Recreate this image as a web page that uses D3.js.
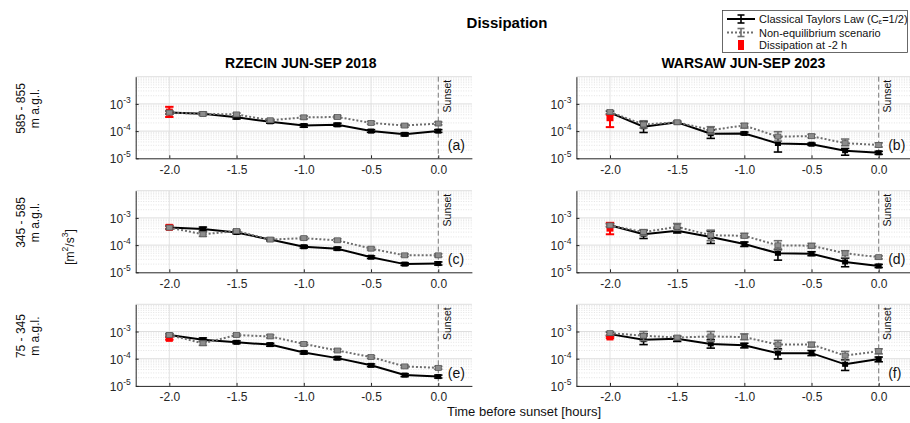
<!DOCTYPE html>
<html>
<head>
<meta charset="utf-8">
<script src="https://cdn.jsdelivr.net/npm/d3@7"></script>
<style>
  html, body { margin: 0; padding: 0; background: #fff; }
  svg { display: block; font-family: "Liberation Sans", Arial, Helvetica, sans-serif; }
</style>
</head>
<body>
<svg id="chart" width="910" height="423"></svg>
<script>
// Hours before sunset at which dissipation was evaluated
const hours = [-2.0, -1.75, -1.5, -1.25, -1.0, -0.75, -0.5, -0.25, 0.0];
const xTicks = [-2.0, -1.5, -1.0, -0.5, 0.0];
const yTicks = [1e-5, 1e-4, 1e-3];

const sites = ["RZECIN JUN-SEP 2018", "WARSAW JUN-SEP 2023"];
const layers = [["585 - 855", "m a.g.l."], ["345 - 585", "m a.g.l."], ["75 - 345", "m a.g.l."]];
const panelTags = ["(a)", "(b)", "(c)", "(d)", "(e)", "(f)"];

// (a) Rzecin 585-855 m
const aTaylor   = [4.8e-4, 4.3e-4, 3.2e-4, 2.2e-4, 1.6e-4, 1.7e-4, 1.0e-4, 7.6e-5, 1.0e-4];
const aTaylorLo = [4.2e-4, 3.8e-4, 2.8e-4, 1.95e-4, 1.4e-4, 1.5e-4, 0.9e-4, 6.7e-5, 0.9e-4];
const aTaylorHi = [5.4e-4, 4.9e-4, 3.6e-4, 2.5e-4, 1.8e-4, 1.95e-4, 1.13e-4, 8.6e-5, 1.13e-4];
const aNoneq    = [4.8e-4, 4.3e-4, 4.1e-4, 2.5e-4, 3.2e-4, 3.3e-4, 2.0e-4, 1.6e-4, 1.9e-4];
const aNoneqLo  = [4.2e-4, 3.8e-4, 3.6e-4, 2.2e-4, 2.8e-4, 2.9e-4, 1.8e-4, 1.4e-4, 1.7e-4];
const aNoneqHi  = [5.4e-4, 4.9e-4, 4.6e-4, 2.8e-4, 3.6e-4, 3.7e-4, 2.25e-4, 1.8e-4, 2.15e-4];
const aStart    = [5.0e-4, 3.3e-4, 7.8e-4]; // value, low, high at -2 h

// (b) Warsaw 585-855 m
const bTaylor   = [4.8e-4, 1.45e-4, 2.1e-4, 8.0e-5, 8.2e-5, 3.5e-5, 3.3e-5, 1.9e-5, 1.6e-5];
const bTaylorLo = [4.2e-4, 8.9e-5, 1.9e-4, 5.4e-5, 7.4e-5, 1.7e-5, 3.0e-5, 1.3e-5, 1.4e-5];
const bTaylorHi = [5.4e-4, 2.2e-4, 2.3e-4, 1.1e-4, 9.2e-5, 6.2e-5, 3.6e-5, 2.3e-5, 1.8e-5];
const bNoneq    = [5.0e-4, 1.75e-4, 2.1e-4, 1.1e-4, 1.6e-4, 6.3e-5, 6.5e-5, 3.6e-5, 3.1e-5];
const bNoneqLo  = [4.4e-4, 1.3e-4, 1.95e-4, 7.9e-5, 1.3e-4, 4.3e-5, 5.7e-5, 2.9e-5, 2.6e-5];
const bNoneqHi  = [5.6e-4, 2.4e-4, 2.3e-4, 1.45e-4, 1.9e-4, 9.5e-5, 7.6e-5, 5.1e-5, 3.7e-5];
const bStart    = [3.1e-4, 1.4e-4, 4.0e-4];

// (c) Rzecin 345-585 m
const cTaylor   = [4.4e-4, 3.9e-4, 2.9e-4, 1.6e-4, 8.7e-5, 7.4e-5, 3.6e-5, 2.0e-5, 2.1e-5];
const cTaylorLo = [3.9e-4, 3.3e-4, 2.6e-4, 1.45e-4, 7.8e-5, 6.6e-5, 3.2e-5, 1.8e-5, 1.85e-5];
const cTaylorHi = [5.0e-4, 4.6e-4, 3.25e-4, 1.8e-4, 9.7e-5, 8.3e-5, 4.0e-5, 2.25e-5, 2.4e-5];
const cNoneq    = [4.4e-4, 2.5e-4, 3.3e-4, 1.6e-4, 1.8e-4, 1.5e-4, 7.4e-5, 4.2e-5, 4.2e-5];
const cNoneqLo  = [3.9e-4, 2.1e-4, 2.95e-4, 1.4e-4, 1.6e-4, 1.35e-4, 6.6e-5, 3.8e-5, 3.7e-5];
const cNoneqHi  = [5.0e-4, 3.0e-4, 3.7e-4, 1.8e-4, 2.0e-4, 1.7e-4, 8.3e-5, 4.7e-5, 4.8e-5];
const cStart    = [4.5e-4, 3.9e-4, 5.3e-4];

// (d) Warsaw 345-585 m
const dTaylor   = [5.4e-4, 2.5e-4, 3.4e-4, 2.0e-4, 1.1e-4, 5.0e-5, 4.8e-5, 2.4e-5, 1.7e-5];
const dTaylorLo = [4.8e-4, 1.75e-4, 2.8e-4, 1.15e-4, 8.9e-5, 2.8e-5, 4.1e-5, 1.6e-5, 1.5e-5];
const dTaylorHi = [6.1e-4, 3.5e-4, 4.3e-4, 3.3e-4, 1.3e-4, 7.0e-5, 5.7e-5, 3.3e-5, 1.95e-5];
const dNoneq    = [5.3e-4, 3.0e-4, 4.7e-4, 2.3e-4, 2.2e-4, 9.8e-5, 9.5e-5, 5.0e-5, 3.6e-5];
const dNoneqLo  = [4.7e-4, 2.25e-4, 3.5e-4, 1.45e-4, 1.85e-4, 6.6e-5, 7.8e-5, 3.5e-5, 3.1e-5];
const dNoneqHi  = [6.0e-4, 3.7e-4, 6.2e-4, 3.55e-4, 2.7e-4, 1.45e-4, 1.15e-4, 6.2e-5, 4.0e-5];
const dStart    = [4.2e-4, 2.5e-4, 6.6e-4];

// (e) Rzecin 75-345 m
const eTaylor   = [7.4e-4, 5.0e-4, 4.0e-4, 3.3e-4, 1.7e-4, 1.05e-4, 5.7e-5, 2.5e-5, 2.2e-5];
const eTaylorLo = [6.6e-4, 4.3e-4, 3.6e-4, 2.9e-4, 1.5e-4, 9.3e-5, 5.1e-5, 2.2e-5, 1.95e-5];
const eTaylorHi = [8.3e-4, 5.8e-4, 4.5e-4, 3.7e-4, 1.9e-4, 1.18e-4, 6.4e-5, 2.8e-5, 2.5e-5];
const eNoneq    = [7.4e-4, 3.7e-4, 7.4e-4, 6.6e-4, 3.5e-4, 2.0e-4, 1.15e-4, 5.2e-5, 4.6e-5];
const eNoneqLo  = [6.6e-4, 3.1e-4, 6.6e-4, 5.8e-4, 3.1e-4, 1.8e-4, 1.03e-4, 4.6e-5, 4.1e-5];
const eNoneqHi  = [8.3e-4, 4.4e-4, 8.3e-4, 7.5e-4, 3.9e-4, 2.25e-4, 1.28e-4, 5.8e-5, 5.2e-5];
const eStart    = [5.6e-4, 5.0e-4, 6.3e-4];

// (f) Warsaw 75-345 m
const fTaylor   = [8.0e-4, 5.0e-4, 5.4e-4, 3.5e-4, 3.1e-4, 1.6e-4, 1.6e-4, 6.2e-5, 9.8e-5];
const fTaylorLo = [6.9e-4, 3.3e-4, 4.3e-4, 2.45e-4, 2.5e-4, 9.8e-5, 1.3e-4, 3.7e-5, 7.7e-5];
const fTaylorHi = [9.5e-4, 8.2e-4, 6.6e-4, 5.0e-4, 3.7e-4, 2.3e-4, 2.0e-4, 9.1e-5, 1.15e-4];
const fNoneq    = [8.7e-4, 7.0e-4, 6.0e-4, 6.6e-4, 6.2e-4, 3.3e-4, 3.3e-4, 1.3e-4, 1.9e-4];
const fNoneqLo  = [7.4e-4, 4.6e-4, 5.0e-4, 4.3e-4, 5.0e-4, 2.1e-4, 2.7e-4, 8.7e-5, 1.5e-4];
const fNoneqHi  = [9.7e-4, 1.0e-3, 6.9e-4, 1.0e-3, 8.2e-4, 4.7e-4, 4.0e-4, 1.85e-4, 2.3e-4];
const fStart    = [6.3e-4, 5.7e-4, 7.0e-4];

const legendLabels = ["Classical Taylors Law (C", "Non-equilibrium scenario", "Dissipation at -2 h"];

// Panels in row-major order (row = height layer, col = site)
const panels = [
  { row: 0, col: 0, t: [aTaylor, aTaylorLo, aTaylorHi], n: [aNoneq, aNoneqLo, aNoneqHi], s: aStart },
  { row: 0, col: 1, t: [bTaylor, bTaylorLo, bTaylorHi], n: [bNoneq, bNoneqLo, bNoneqHi], s: bStart },
  { row: 1, col: 0, t: [cTaylor, cTaylorLo, cTaylorHi], n: [cNoneq, cNoneqLo, cNoneqHi], s: cStart },
  { row: 1, col: 1, t: [dTaylor, dTaylorLo, dTaylorHi], n: [dNoneq, dNoneqLo, dNoneqHi], s: dStart },
  { row: 2, col: 0, t: [eTaylor, eTaylorLo, eTaylorHi], n: [eNoneq, eNoneqLo, eNoneqHi], s: eStart },
  { row: 2, col: 1, t: [fTaylor, fTaylorLo, fTaylorHi], n: [fNoneq, fNoneqLo, fNoneqHi], s: fStart }
];

// Layout
const colX = [[135.7, 471.9], [576.4, 912.3]];
const rowTop = [76.7, 190.7, 304.3];
const panelH = 81.6;
const ink = "#262626";
const capW = 4.2;

const svg = d3.select("#chart");

function errorBars(g, x, y, xsArr, lo, hi, color, width) {
  const eb = g.append("g");
  xsArr.forEach((h, i) => {
    const cx = x(h);
    eb.append("line").attr("x1", cx).attr("x2", cx).attr("y1", y(lo[i])).attr("y2", y(hi[i]))
      .attr("stroke", color).attr("stroke-width", width);
    [lo[i], hi[i]].forEach(v => {
      eb.append("line").attr("x1", cx - capW).attr("x2", cx + capW).attr("y1", y(v)).attr("y2", y(v))
        .attr("stroke", color).attr("stroke-width", width);
    });
  });
}

panels.forEach((p, idx) => {
  const [x0, x1] = colX[p.col];
  const top = rowTop[p.row];
  const bottom = top + panelH;
  const x = d3.scaleLinear().domain([-2.25, 0.25]).range([x0, x1]);
  const y = d3.scaleLog().domain([1e-5, 1e-2]).range([bottom, top]);
  const g = svg.append("g");

  // minor horizontal grid (dotted)
  const minor = [];
  [1e-5, 1e-4, 1e-3].forEach(d => { for (let k = 2; k <= 9; k++) minor.push(d * k); });
  g.append("g").selectAll("line").data(minor).join("line")
    .attr("x1", x0).attr("x2", x1).attr("y1", d => y(d)).attr("y2", d => y(d))
    .attr("stroke", "#dcdcdc").attr("stroke-width", 0.8).attr("stroke-dasharray", "1,1.5");
  // major horizontal grid
  g.append("g").selectAll("line").data([1e-4, 1e-3, 1e-2]).join("line")
    .attr("x1", x0).attr("x2", x1).attr("y1", d => y(d)).attr("y2", d => y(d))
    .attr("stroke", "#d6d6d6").attr("stroke-width", 0.8);
  // vertical grid
  g.append("g").selectAll("line").data(xTicks.slice(0, 4)).join("line")
    .attr("x1", d => x(d)).attr("x2", d => x(d)).attr("y1", top).attr("y2", bottom)
    .attr("stroke", "#dcdcdc").attr("stroke-width", 0.8);

  // sunset marker
  g.append("line").attr("x1", x(0)).attr("x2", x(0)).attr("y1", top).attr("y2", bottom)
    .attr("stroke", "#666").attr("stroke-width", 0.9).attr("stroke-dasharray", "5,3");
  g.append("text").attr("transform", `translate(${x(0) + 8.5},${top + 3}) rotate(-90)`)
    .attr("text-anchor", "end").attr("dominant-baseline", "central")
    .attr("font-size", 10.5).attr("fill", "#111").text("Sunset");

  // axes
  const xAxis = d3.axisBottom(x).tickValues(xTicks).tickFormat(d3.format(".1f"))
    .tickSizeInner(-3).tickSizeOuter(0).tickPadding(7);
  const gx = g.append("g").attr("transform", `translate(0,${bottom})`).call(xAxis);
  gx.select(".domain").attr("stroke", ink);
  gx.selectAll(".tick line").attr("stroke", ink);
  gx.selectAll(".tick text").attr("font-size", 12).attr("fill", ink)
    .attr("font-family", "'Liberation Sans', Arial, Helvetica, sans-serif")
    .text(d => d3.format(".1f")(d).replace("−", "-"));

  const yAxis = d3.axisLeft(y).tickValues(yTicks).tickFormat(() => "")
    .tickSizeInner(-3).tickSizeOuter(0);
  const gy = g.append("g").attr("transform", `translate(${x0},0)`).call(yAxis);
  gy.select(".domain").attr("stroke", ink);
  gy.selectAll(".tick line").attr("stroke", ink);
  gy.selectAll(".tick").each(function (d) {
    const t = d3.select(this).select("text")
      .attr("x", -5).attr("dy", "0.38em").attr("font-size", 12).attr("fill", ink)
      .attr("font-family", "'Liberation Sans', Arial, Helvetica, sans-serif");
    t.append("tspan").text("10");
    t.append("tspan").attr("font-size", 8.5).attr("dy", -6).text(String(Math.round(Math.log10(d))).replace("−", "-"));
  });

  const line = d3.line().x((d, i) => x(hours[i])).y(d => y(d));

  // Classical Taylor's law
  g.append("path").datum(p.t[0]).attr("d", line).attr("fill", "none")
    .attr("stroke", "#000").attr("stroke-width", 2);
  errorBars(g, x, y, hours, p.t[1], p.t[2], "#000", 1.6);
  g.append("g").selectAll("rect").data(p.t[0]).join("rect")
    .attr("x", (d, i) => x(hours[i]) - 3).attr("y", d => y(d) - 2.5)
    .attr("width", 6).attr("height", 5).attr("fill", "#000");

  // dissipation at -2 h
  errorBars(g, x, y, [hours[0]], [p.s[1]], [p.s[2]], "#ff0000", 2);
  g.append("rect").attr("x", x(hours[0]) - 3.5).attr("y", y(p.s[0]) - 3.5)
    .attr("width", 7).attr("height", 7).attr("fill", "#ff0000");

  // Non-equilibrium scenario
  g.append("path").datum(p.n[0]).attr("d", line).attr("fill", "none")
    .attr("stroke", "#6e6e6e").attr("stroke-width", 2).attr("stroke-dasharray", "2,2");
  errorBars(g, x, y, hours, p.n[1], p.n[2], "#6e6e6e", 1.6);
  g.append("g").selectAll("rect").data(p.n[0]).join("rect")
    .attr("x", (d, i) => x(hours[i]) - 3).attr("y", d => y(d) - 2.5)
    .attr("width", 6).attr("height", 5).attr("fill", "#8c8c8c")
    .attr("stroke", "#5a5a5a").attr("stroke-width", 0.8);

  // panel tag
  g.append("text").attr("x", x(0) + 9.5).attr("y", bottom - 13).attr("dominant-baseline", "central")
    .attr("font-size", 14).attr("fill", "#111").text(panelTags[idx]);

  // site title on top row
  if (p.row === 0) {
    g.append("text").attr("x", (x0 + x1) / 2 - (p.col === 0 ? 3 : 1)).attr("y", top - 9)
      .attr("text-anchor", "middle").attr("font-size", 14).attr("font-weight", "bold")
      .attr("fill", "#000").text(sites[p.col]);
  }
});

// Layer labels on the left
layers.forEach((lab, r) => {
  const cy = rowTop[r] + panelH / 2 - 9;
  svg.append("text").attr("transform", `translate(21,${cy}) rotate(-90)`)
    .attr("text-anchor", "middle").attr("dominant-baseline", "central")
    .attr("font-size", 12).attr("fill", "#111").text(lab[0]);
  svg.append("text").attr("transform", `translate(35,${cy}) rotate(-90)`)
    .attr("text-anchor", "middle").attr("dominant-baseline", "central")
    .attr("font-size", 12).attr("fill", "#111").text(lab[1]);
});

// unit label
const unit = svg.append("text").attr("transform", `translate(70,247) rotate(-90)`)
  .attr("text-anchor", "middle").attr("dominant-baseline", "central")
  .attr("font-size", 12).attr("fill", "#111");
unit.append("tspan").text("[m");
unit.append("tspan").attr("font-size", 8.5).attr("dy", -5).text("2");
unit.append("tspan").attr("dy", 5).text("/s");
unit.append("tspan").attr("font-size", 8.5).attr("dy", -5).text("3");
unit.append("tspan").attr("dy", 5).text("]");

// x label and figure title
svg.append("text").attr("x", 524).attr("y", 411).attr("text-anchor", "middle")
  .attr("dominant-baseline", "central").attr("font-size", 13).attr("fill", "#111")
  .text("Time before sunset [hours]");
svg.append("text").attr("x", 507).attr("y", 22).attr("text-anchor", "middle")
  .attr("dominant-baseline", "central").attr("font-size", 15).attr("font-weight", "bold")
  .attr("fill", "#000").text("Dissipation");

// Legend
const lg = svg.append("g");
lg.append("rect").attr("x", 722.5).attr("y", 10.5).attr("width", 185).attr("height", 42)
  .attr("fill", "#fff").attr("stroke", "#444").attr("stroke-width", 0.8);
const rowsY = [19, 32.5, 45];
const lx0 = 727, lx1 = 755, lxc = 741;
// entry 1: black line + errorbar
lg.append("line").attr("x1", lx0).attr("x2", lx1).attr("y1", rowsY[0]).attr("y2", rowsY[0])
  .attr("stroke", "#000").attr("stroke-width", 2);
[[rowsY[0] - 4, rowsY[0] + 4]].forEach(([a, b]) => {
  lg.append("line").attr("x1", lxc).attr("x2", lxc).attr("y1", a).attr("y2", b).attr("stroke", "#000").attr("stroke-width", 1.6);
  [a, b].forEach(v => lg.append("line").attr("x1", lxc - 3.5).attr("x2", lxc + 3.5).attr("y1", v).attr("y2", v).attr("stroke", "#000").attr("stroke-width", 1.6));
});
// entry 2: gray dotted line + errorbar
lg.append("line").attr("x1", lx0).attr("x2", lx1).attr("y1", rowsY[1]).attr("y2", rowsY[1])
  .attr("stroke", "#6e6e6e").attr("stroke-width", 2).attr("stroke-dasharray", "2,2");
[[rowsY[1] - 4, rowsY[1] + 4]].forEach(([a, b]) => {
  lg.append("line").attr("x1", lxc).attr("x2", lxc).attr("y1", a).attr("y2", b).attr("stroke", "#6e6e6e").attr("stroke-width", 1.6);
  [a, b].forEach(v => lg.append("line").attr("x1", lxc - 3.5).attr("x2", lxc + 3.5).attr("y1", v).attr("y2", v).attr("stroke", "#6e6e6e").attr("stroke-width", 1.6));
});
// entry 3: red marker with errorbar
[[rowsY[2] - 4, rowsY[2] + 4]].forEach(([a, b]) => {
  lg.append("line").attr("x1", lxc).attr("x2", lxc).attr("y1", a).attr("y2", b).attr("stroke", "#ff0000").attr("stroke-width", 2);
  [a, b].forEach(v => lg.append("line").attr("x1", lxc - 3).attr("x2", lxc + 3).attr("y1", v).attr("y2", v).attr("stroke", "#ff0000").attr("stroke-width", 2));
});
lg.append("rect").attr("x", lxc - 3).attr("y", rowsY[2] - 3).attr("width", 6).attr("height", 6).attr("fill", "#ff0000");

const t1 = lg.append("text").attr("x", 759).attr("y", rowsY[0]).attr("dominant-baseline", "central")
  .attr("font-size", 11).attr("fill", "#111");
t1.append("tspan").text(legendLabels[0]);
t1.append("tspan").attr("font-size", 8).attr("dy", 1.5).text("ε");
t1.append("tspan").attr("dy", -1.5).text("=1/2)");
lg.append("text").attr("x", 759).attr("y", rowsY[1]).attr("dominant-baseline", "central")
  .attr("font-size", 11).attr("fill", "#111").text(legendLabels[1]);
lg.append("text").attr("x", 759).attr("y", rowsY[2]).attr("dominant-baseline", "central")
  .attr("font-size", 11).attr("fill", "#111").text(legendLabels[2]);
</script>
</body>
</html>
